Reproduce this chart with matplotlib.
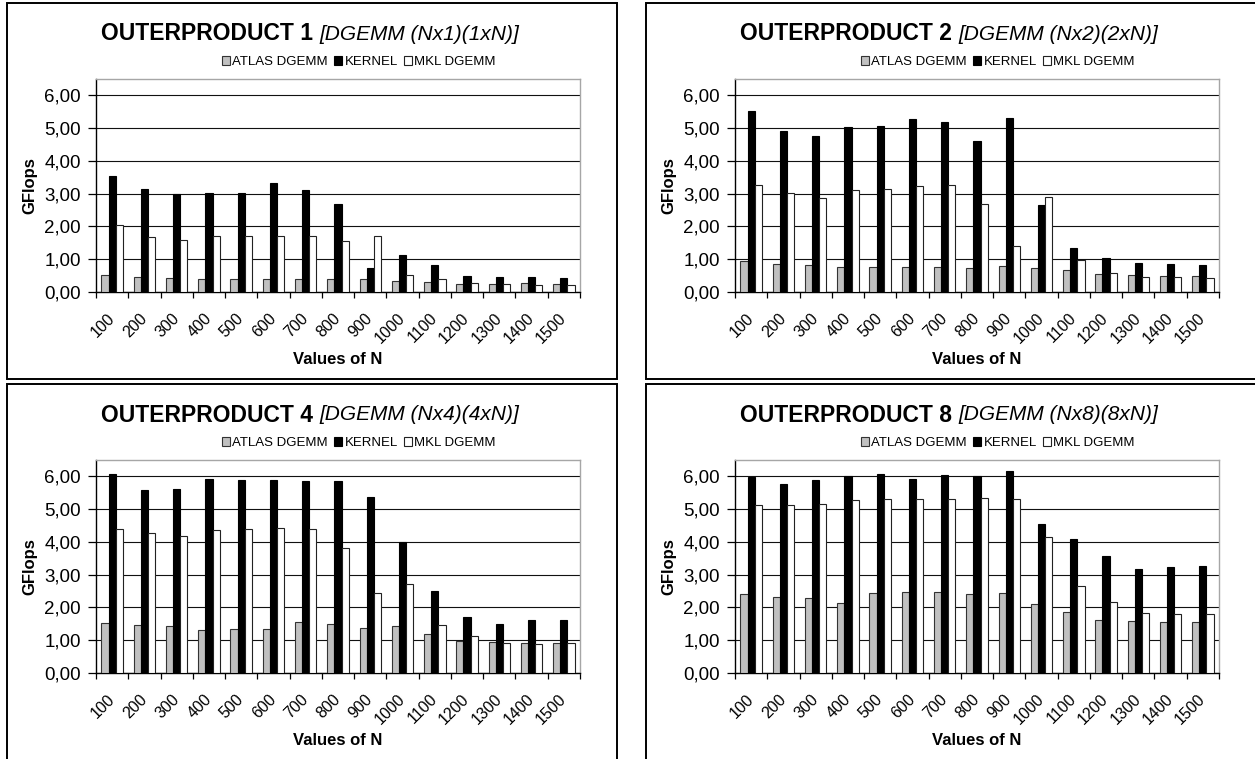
import numpy as np
import matplotlib
matplotlib.use("Agg")
import matplotlib.pyplot as plt
from matplotlib.patches import Rectangle
from matplotlib.ticker import FuncFormatter, FixedLocator

plt.rcParams['font.family'] = ['Liberation Sans', 'DejaVu Sans']

n_values = [100, 200, 300, 400, 500, 600, 700, 800, 900, 1000, 1100, 1200, 1300, 1400, 1500]
series_names = ["ATLAS DGEMM", "KERNEL", "MKL DGEMM"]

# outerproduct 1
atlas_op1 = [0.52, 0.46, 0.43, 0.40, 0.41, 0.40, 0.40, 0.39, 0.40, 0.35, 0.29, 0.25, 0.25, 0.26, 0.25]
kernel_op1 = [3.54, 3.14, 3.00, 3.03, 3.01, 3.32, 3.12, 2.70, 0.74, 1.14, 0.81, 0.49, 0.45, 0.45, 0.42]
mkl_op1 = [2.04, 1.67, 1.58, 1.71, 1.70, 1.72, 1.71, 1.56, 1.72, 0.52, 0.39, 0.28, 0.23, 0.22, 0.22]

# outerproduct 2
atlas_op2 = [0.94, 0.86, 0.81, 0.76, 0.77, 0.76, 0.76, 0.74, 0.78, 0.73, 0.66, 0.55, 0.51, 0.50, 0.49]
kernel_op2 = [5.53, 4.92, 4.76, 5.03, 5.07, 5.29, 5.18, 4.60, 5.31, 2.65, 1.33, 1.05, 0.90, 0.84, 0.83]
mkl_op2 = [3.26, 3.02, 2.88, 3.12, 3.14, 3.23, 3.26, 2.69, 1.39, 2.91, 0.99, 0.57, 0.46, 0.45, 0.44]

# outerproduct 4
atlas_op4 = [1.53, 1.46, 1.42, 1.31, 1.35, 1.33, 1.55, 1.51, 1.38, 1.43, 1.18, 0.98, 0.94, 0.91, 0.91]
kernel_op4 = [6.07, 5.57, 5.60, 5.92, 5.88, 5.88, 5.85, 5.86, 5.37, 3.99, 2.51, 1.70, 1.50, 1.62, 1.63]
mkl_op4 = [4.40, 4.27, 4.19, 4.35, 4.40, 4.42, 4.40, 3.81, 2.43, 2.71, 1.48, 1.12, 0.93, 0.90, 0.91]

# outerproduct 8
atlas_op8 = [2.41, 2.33, 2.28, 2.13, 2.45, 2.46, 2.46, 2.40, 2.45, 2.10, 1.87, 1.61, 1.59, 1.57, 1.55]
kernel_op8 = [5.97, 5.76, 5.90, 6.01, 6.07, 5.93, 6.04, 6.01, 6.16, 4.56, 4.10, 3.56, 3.18, 3.22, 3.27]
mkl_op8 = [5.14, 5.13, 5.15, 5.28, 5.30, 5.31, 5.30, 5.34, 5.31, 4.15, 2.67, 2.16, 1.84, 1.79, 1.80]

W, H = 1255, 759
fig = plt.figure(figsize=(W / 100, H / 100), dpi=100)


def fx(px):
    return px / W


def fy(py):
    return 1 - py / H


def draw_panel(left, top, atlas, kernel, mkl, k):
    # left/top: pixel offset of the panel box
    ax = fig.add_axes([fx(left + 89), fy(top + 289), 484 / W, 213 / H])
    x = np.arange(len(n_values))
    w = 0.222
    b1 = ax.bar(x - w, atlas, w, color='#c0c0c0', edgecolor='#333333', linewidth=0.8, zorder=3)
    b2 = ax.bar(x, kernel, w, color='black', edgecolor='black', linewidth=0.8, zorder=3)
    b3 = ax.bar(x + w, mkl, w, color='white', edgecolor='#222222', linewidth=0.8, zorder=3)

    ax.set_xlim(-0.5, len(n_values) - 0.5)
    ax.set_ylim(0, 6.5)
    ax.set_yticks(range(7))
    ax.yaxis.set_major_formatter(FuncFormatter(lambda v, p: f"{v:.2f}".replace('.', ',')))
    ax.tick_params(axis='y', labelsize=13.5, length=6, width=0.9, direction='out', pad=5)
    ax.grid(axis='y', color='#111111', linewidth=0.8, zorder=1)

    ax.set_xticks(x)
    ax.set_xticklabels([str(v) for v in n_values], rotation=45, ha='right', va='center',
                       rotation_mode='anchor', fontsize=11.5)
    ax.tick_params(axis='x', which='major', length=0, pad=17)
    ax.xaxis.set_minor_locator(FixedLocator(np.arange(-0.5, len(n_values), 1.0)))
    ax.tick_params(axis='x', which='minor', length=4, width=0.9, direction='out')

    for s in ['top', 'right']:
        ax.spines[s].set_color('#a6a6a6')
        ax.spines[s].set_linewidth(1.0)
    for s in ['left', 'bottom']:
        ax.spines[s].set_color('black')
        ax.spines[s].set_linewidth(1.0)

    ax.set_ylabel('GFlops', fontsize=12, fontweight='bold', labelpad=5)
    ax.set_xlabel('Values of N', fontsize=12, fontweight='bold', labelpad=4)

    fig.legend([b1, b2, b3], series_names, loc='center', ncol=3, frameon=False,
               bbox_to_anchor=(fx(left + 352), fy(top + 59)), fontsize=9.5,
               handlelength=0.6, handleheight=0.6, handletextpad=0.15,
               columnspacing=0.5, borderaxespad=0)

    # title: bold part followed by italic part, centred over the panel box
    cx = left + 303
    ty = fy(top + 31)
    t1 = fig.text(0, ty, f"OUTERPRODUCT {k} ", fontsize=16.5, fontweight='bold',
                  ha='left', va='center')
    t2 = fig.text(0, ty, f"[DGEMM (Nx{k})({k}xN)]", fontsize=15, style='italic',
                  ha='left', va='center')
    r = fig.canvas.get_renderer()
    w1 = t1.get_window_extent(r).width
    w2 = t2.get_window_extent(r).width
    x0 = cx - (w1 + w2) / 2
    t1.set_x(fx(x0))
    t2.set_x(fx(x0 + w1))

    # frame around the panel
    fig.add_artist(Rectangle((fx(left), fy(top + 376)), fx(610), 376 / H, fill=False,
                             edgecolor='black', linewidth=1.4, transform=fig.transFigure))


draw_panel(7, 3, atlas_op1, kernel_op1, mkl_op1, 1)
draw_panel(646, 3, atlas_op2, kernel_op2, mkl_op2, 2)
draw_panel(7, 384, atlas_op4, kernel_op4, mkl_op4, 4)
draw_panel(646, 384, atlas_op8, kernel_op8, mkl_op8, 8)

fig.savefig('out.png', dpi=100)
